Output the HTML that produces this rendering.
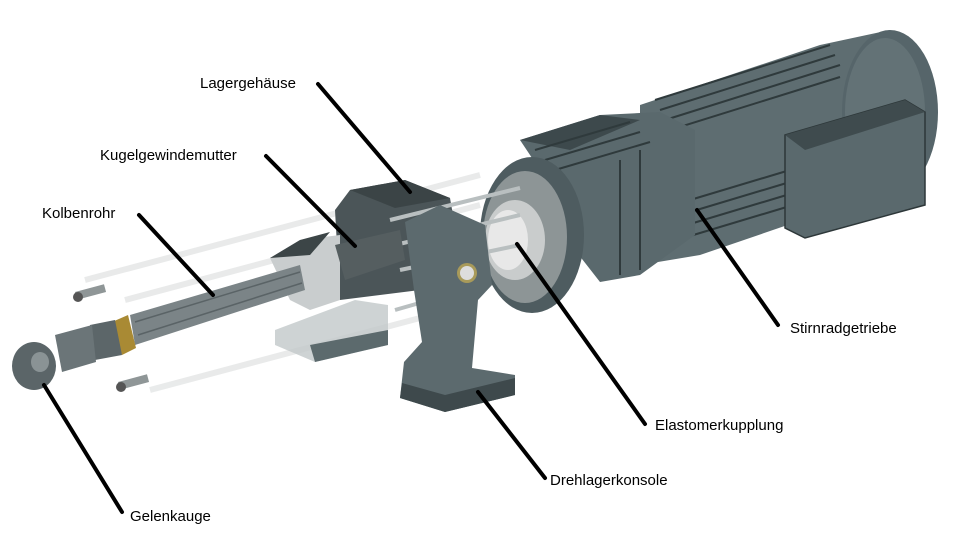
<!DOCTYPE html>
<html><head><meta charset="utf-8"><style>
html,body{margin:0;padding:0;background:#fff;}
svg{display:block;}
text{font-family:"Liberation Sans",sans-serif;font-size:15px;fill:#000;}
</style></head><body>
<svg width="957" height="546" viewBox="0 0 957 546" xmlns="http://www.w3.org/2000/svg">
<!-- faint translucent tube lines -->
<g stroke="#e4e6e6" stroke-width="6" fill="none" opacity="0.8">
<line x1="85" y1="280" x2="480" y2="175"/>
<line x1="125" y1="300" x2="480" y2="205"/>
<line x1="150" y1="390" x2="420" y2="318"/>
</g>
<!-- motor body -->
<path d="M640,105 L820,45 L890,30 L890,190 L700,255 L640,265 Z" fill="#5e6d71"/>
<ellipse cx="890" cy="112" rx="48" ry="82" fill="#56656a"/>
<ellipse cx="885" cy="112" rx="40" ry="74" fill="#637276"/>
<g stroke="#2f3a3c" stroke-width="2">
<line x1="655" y1="100" x2="830" y2="45"/><line x1="660" y1="110" x2="835" y2="55"/>
<line x1="665" y1="120" x2="840" y2="65"/><line x1="670" y1="130" x2="840" y2="77"/>
<line x1="690" y1="200" x2="790" y2="170"/><line x1="690" y1="212" x2="790" y2="182"/>
<line x1="690" y1="224" x2="790" y2="194"/><line x1="690" y1="236" x2="790" y2="206"/>
</g>
<!-- terminal box -->
<path d="M785,135 L905,100 L925,112 L925,205 L805,238 L785,228 Z" fill="#5a696d" stroke="#2d3739" stroke-width="1.5"/>
<path d="M785,135 L905,100 L925,112 L805,150 Z" fill="#3f4b4e"/>
<!-- gearbox -->
<path d="M520,140 L600,115 L660,112 L695,130 L695,235 L640,275 L600,282 L575,250 L560,200 Z" fill="#5a696d"/>
<path d="M520,140 L600,115 L640,120 L570,150 Z" fill="#3d494c"/>
<g stroke="#2f3a3c" stroke-width="2">
<line x1="535" y1="150" x2="630" y2="122"/><line x1="545" y1="160" x2="640" y2="132"/><line x1="555" y1="170" x2="650" y2="142"/>
<line x1="640" y1="150" x2="640" y2="270"/><line x1="620" y1="160" x2="620" y2="275"/>
</g>
<!-- flange -->
<ellipse cx="532" cy="235" rx="52" ry="78" fill="#4e5c60"/>
<ellipse cx="525" cy="237" rx="42" ry="66" fill="#8d9596"/>
<ellipse cx="515" cy="240" rx="30" ry="40" fill="#c9cccc"/>
<ellipse cx="508" cy="240" rx="20" ry="30" fill="#e8e8e8"/>
<!-- lager gehause block -->
<path d="M335,210 L350,190 L405,180 L450,198 L460,255 L420,290 L340,300 Z" fill="#4b5558"/>
<path d="M350,190 L405,180 L450,198 L395,208 Z" fill="#3b4446"/>
<!-- rods -->
<g stroke="#b9bfc0" stroke-width="4">
<line x1="390" y1="220" x2="520" y2="188"/><line x1="395" y1="245" x2="520" y2="215"/>
<line x1="400" y1="270" x2="520" y2="245"/><line x1="395" y1="310" x2="430" y2="300"/>
</g>
<!-- lower block -->
<path d="M275,330 L355,300 L388,305 L388,345 L315,362 L275,345 Z" fill="#c2c8c9" opacity="0.8"/>
<path d="M310,345 L388,330 L388,345 L315,362 Z" fill="#5c6a6d"/>
<!-- nut -->
<path d="M270,258 L300,240 L340,235 L340,300 L310,310 L290,300 Z" fill="#c9cdce"/>
<path d="M270,258 L300,240 L330,232 L310,255 Z" fill="#3c4547"/>
<path d="M335,245 L400,230 L405,260 L345,280 Z" fill="#555e60"/>
<!-- piston tube -->
<path d="M130,315 L300,265 L305,290 L135,345 Z" fill="#7b8487"/>
<line x1="135" y1="322" x2="300" y2="272" stroke="#5a6366" stroke-width="1.5"/>
<line x1="138" y1="335" x2="302" y2="283" stroke="#5a6366" stroke-width="1.5"/>
<!-- end cap brass -->
<path d="M112,322 L128,315 L136,348 L122,355 Z" fill="#a98a34"/>
<path d="M90,325 L115,320 L122,355 L95,360 Z" fill="#5c6669"/>
<path d="M55,335 L92,325 L96,362 L62,372 Z" fill="#6b7578"/>
<!-- eye -->
<ellipse cx="34" cy="366" rx="22" ry="24" fill="#5b6568"/>
<ellipse cx="40" cy="362" rx="9" ry="10" fill="#8a9395"/>
<!-- screws -->
<g fill="#8f9697"><rect x="75" y="292" width="30" height="8" transform="rotate(-15 75 292)"/><circle cx="78" cy="297" r="5" fill="#555"/>
<rect x="118" y="382" width="30" height="8" transform="rotate(-15 118 382)"/><circle cx="121" cy="387" r="5" fill="#555"/></g>
<!-- bracket Drehlagerkonsole -->
<path d="M405,222 L440,205 L485,225 L492,285 L478,300 L472,368 L515,375 L515,395 L445,412 L400,398 L404,362 L422,342 L414,290 Z" fill="#5c6a6e"/>
<path d="M400,398 L445,412 L515,395 L515,378 L445,395 L402,383 Z" fill="#3e494c"/>
<circle cx="467" cy="273" r="10" fill="#a89a5a"/><circle cx="467" cy="273" r="7" fill="#ddd"/>
<!-- leader lines -->
<g stroke="#000" stroke-width="4" stroke-linecap="round">
<line x1="318" y1="84" x2="410" y2="192"/>
<line x1="266" y1="156" x2="355" y2="246"/>
<line x1="139" y1="215" x2="213" y2="295"/>
<line x1="44" y1="385" x2="122" y2="512"/>
<line x1="478" y1="392" x2="545" y2="478"/>
<line x1="517" y1="244" x2="645" y2="424"/>
<line x1="697" y1="210" x2="778" y2="325"/>
</g>
<text x="200" y="88">Lagergehäuse</text>
<text x="100" y="160">Kugelgewindemutter</text>
<text x="42" y="218">Kolbenrohr</text>
<text x="130" y="521">Gelenkauge</text>
<text x="550" y="485">Drehlagerkonsole</text>
<text x="655" y="430">Elastomerkupplung</text>
<text x="790" y="333">Stirnradgetriebe</text>
</svg>
</body></html>
